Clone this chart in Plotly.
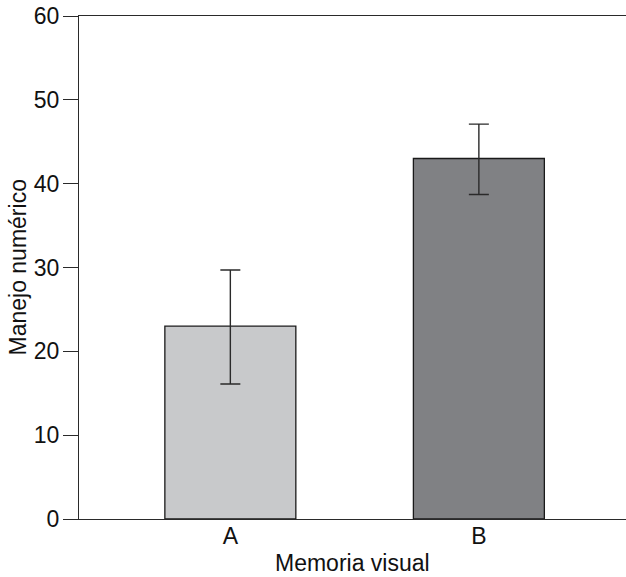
import plotly.graph_objects as go

categories = ["A", "B"]
values = [23.0, 43.0]
err_plus = [6.7, 4.1]
err_minus = [6.9, 4.3]
colors = ["#c8c9cb", "#808184"]
y_ticks = [0, 10, 20, 30, 40, 50, 60]
x_title = "Memoria visual"
y_title = "Manejo numérico"

FONT = "Liberation Sans, Arial, Helvetica, sans-serif"

fig = go.Figure()
fig.add_trace(go.Bar(
    x=list(range(len(categories))),
    y=values,
    width=0.527,
    marker=dict(color=colors, line=dict(color="#1a1a1a", width=1.3)),
    error_y=dict(type="data", symmetric=False, array=err_plus, arrayminus=err_minus,
                 color="#2a2a2a", thickness=1.4, width=10),
    showlegend=False,
))

fig.update_layout(
    width=626, height=577,
    margin=dict(l=79, r=0, t=16, b=58, autoexpand=False),
    paper_bgcolor="white", plot_bgcolor="white",
    font=dict(family=FONT, size=23, color="#111"),
    xaxis=dict(
        range=[-0.609, 1.592],
        tickvals=list(range(len(categories))),
        ticktext=categories,
        showline=True, linecolor="#2a2a2a", linewidth=1.3, mirror=True,
        ticks="", showgrid=False, zeroline=False,
        ticklabelstandoff=-4,
        tickfont=dict(size=23),
    ),
    yaxis=dict(
        range=[0, 60],
        tickvals=y_ticks,
        showline=True, linecolor="#2a2a2a", linewidth=1.3,
        ticks="outside", ticklen=15, tickwidth=1.3, tickcolor="#2a2a2a",
        showgrid=False, zeroline=False,
        ticklabelstandoff=-1,
        ticklabeloverflow="allow",
        tickfont=dict(size=23),
    ),
    annotations=[
        dict(text=x_title, xref="paper", yref="paper", x=0.5, y=0,
             xanchor="center", yanchor="middle", yshift=-44, showarrow=False,
             borderpad=0, font=dict(size=23)),
        dict(text=y_title, xref="paper", yref="paper", x=0, y=0.5,
             xanchor="center", yanchor="middle", xshift=-62, textangle=-90,
             showarrow=False, borderpad=0, font=dict(size=23)),
    ],
)

fig.write_html(
    "out.html",
    config={"displayModeBar": False},
    post_script="document.body.style.margin='0';document.body.style.overflow='hidden';",
)
